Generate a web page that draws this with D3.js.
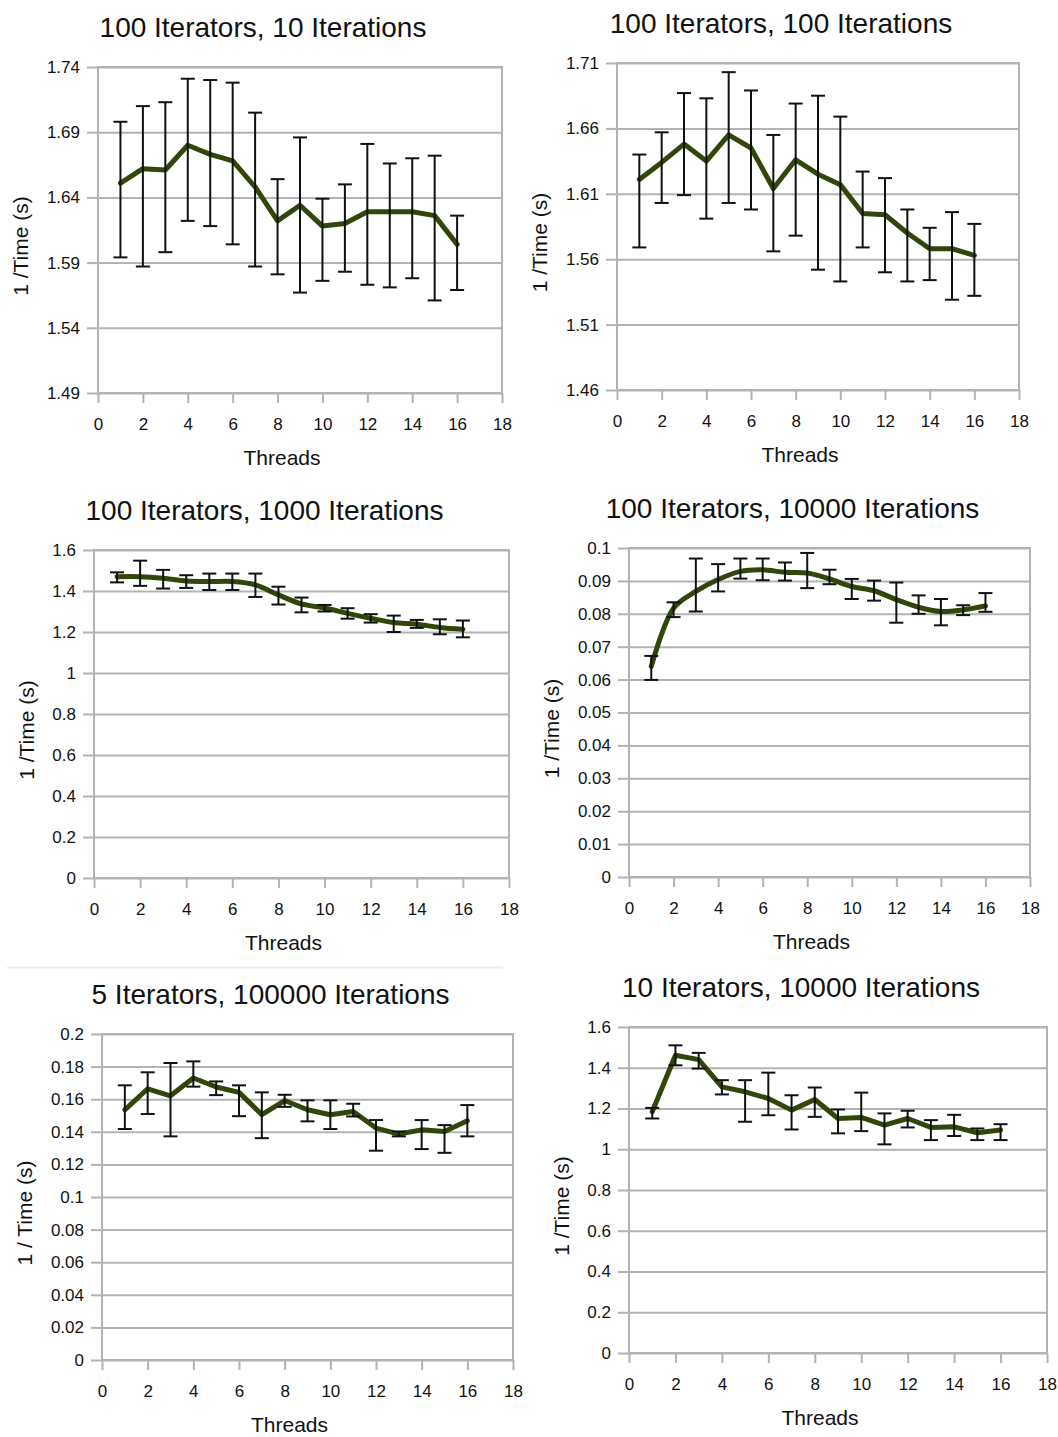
<!DOCTYPE html>
<html>
<head>
<meta charset="utf-8">
<script src="https://cdn.jsdelivr.net/npm/d3@7"></script>
<style>
  body { margin: 0; background: #fff; }
  text { font-family: "Liberation Sans", Arial, sans-serif; fill: #111; }
</style>
</head>
<body>
<svg id="chart" width="1058" height="1437"></svg>
<script>
// shared x data
const threads = [1, 2, 3, 4, 5, 6, 7, 8, 9, 10, 11, 12, 13, 14, 15, 16];
const xTicks = [0, 2, 4, 6, 8, 10, 12, 14, 16, 18];

const titles = [
  "100 Iterators, 10 Iterations",
  "100 Iterators, 100 Iterations",
  "100 Iterators, 1000 Iterations",
  "100 Iterators, 10000 Iterations",
  "5 Iterators, 100000 Iterations",
  "10 Iterators, 10000 Iterations"
];
const yTitles = ["1 /Time (s)", "1 /Time (s)", "1 /Time (s)", "1 /Time (s)", "1 / Time (s)", "1 /Time (s)"];
const xTitle = "Threads";

// y tick labels, bottom to top
const yTicks1 = ["1.49", "1.54", "1.59", "1.64", "1.69", "1.74"];
const yTicks2 = ["1.46", "1.51", "1.56", "1.61", "1.66", "1.71"];
const yTicks3 = ["0", "0.2", "0.4", "0.6", "0.8", "1", "1.2", "1.4", "1.6"];
const yTicks4 = ["0", "0.01", "0.02", "0.03", "0.04", "0.05", "0.06", "0.07", "0.08", "0.09", "0.1"];
const yTicks5 = ["0", "0.02", "0.04", "0.06", "0.08", "0.1", "0.12", "0.14", "0.16", "0.18", "0.2"];
const yTicks6 = ["0", "0.2", "0.4", "0.6", "0.8", "1", "1.2", "1.4", "1.6"];

// 100 iterators, 10 iterations
const mean1 = [1.651, 1.662, 1.661, 1.680, 1.673, 1.668, 1.648, 1.622, 1.634, 1.618, 1.620, 1.629, 1.629, 1.629, 1.626, 1.604];
const high1 = [1.698, 1.710, 1.713, 1.731, 1.730, 1.728, 1.705, 1.654, 1.686, 1.639, 1.650, 1.681, 1.666, 1.670, 1.672, 1.626];
const low1  = [1.594, 1.587, 1.598, 1.622, 1.618, 1.604, 1.587, 1.581, 1.567, 1.576, 1.583, 1.573, 1.571, 1.578, 1.561, 1.569];

// 100 iterators, 100 iterations
const mean2 = [1.621, 1.634, 1.648, 1.635, 1.655, 1.645, 1.614, 1.636, 1.625, 1.617, 1.595, 1.594, 1.580, 1.568, 1.568, 1.563];
const high2 = [1.640, 1.657, 1.687, 1.683, 1.703, 1.689, 1.655, 1.679, 1.685, 1.669, 1.627, 1.622, 1.598, 1.584, 1.596, 1.587];
const low2  = [1.569, 1.603, 1.609, 1.591, 1.603, 1.598, 1.566, 1.578, 1.552, 1.543, 1.569, 1.550, 1.543, 1.544, 1.529, 1.532];

// 100 iterators, 1000 iterations
const mean3 = [1.470, 1.470, 1.462, 1.449, 1.446, 1.446, 1.430, 1.381, 1.337, 1.317, 1.291, 1.267, 1.246, 1.238, 1.222, 1.213];
const high3 = [1.491, 1.548, 1.503, 1.477, 1.485, 1.485, 1.485, 1.421, 1.368, 1.332, 1.316, 1.287, 1.280, 1.259, 1.262, 1.256];
const low3  = [1.442, 1.425, 1.412, 1.415, 1.405, 1.405, 1.371, 1.334, 1.296, 1.300, 1.265, 1.246, 1.200, 1.220, 1.189, 1.174];

// 100 iterators, 10000 iterations
const mean4 = [0.0640, 0.0817, 0.0868, 0.0904, 0.0929, 0.0934, 0.0926, 0.0924, 0.0906, 0.0883, 0.0870, 0.0843, 0.0820, 0.0807, 0.0812, 0.0824];
const high4 = [0.0672, 0.0835, 0.0968, 0.0951, 0.0968, 0.0968, 0.0956, 0.0985, 0.0934, 0.0906, 0.0901, 0.0895, 0.0856, 0.0845, 0.0826, 0.0863];
const low4  = [0.0599, 0.0790, 0.0807, 0.0868, 0.0907, 0.0902, 0.0901, 0.0878, 0.0890, 0.0845, 0.0840, 0.0773, 0.0800, 0.0765, 0.0796, 0.0806];

// 5 iterators, 100000 iterations
const mean5 = [0.1535, 0.1664, 0.1621, 0.1730, 0.1675, 0.1642, 0.1505, 0.1592, 0.1535, 0.1505, 0.1525, 0.1423, 0.1386, 0.1412, 0.1402, 0.1468];
const high5 = [0.1685, 0.1765, 0.1822, 0.1832, 0.1709, 0.1685, 0.1642, 0.1627, 0.1593, 0.1593, 0.1572, 0.1472, 0.1402, 0.1472, 0.1441, 0.1564];
const low5  = [0.1417, 0.1509, 0.1372, 0.1677, 0.1625, 0.1496, 0.1361, 0.1553, 0.1464, 0.1417, 0.1494, 0.1284, 0.1372, 0.1294, 0.1271, 0.1372];

// 10 iterators, 10000 iterations
const mean6 = [1.184, 1.461, 1.440, 1.306, 1.282, 1.249, 1.192, 1.244, 1.151, 1.156, 1.118, 1.151, 1.107, 1.110, 1.081, 1.094];
const high6 = [1.203, 1.510, 1.473, 1.339, 1.339, 1.376, 1.265, 1.303, 1.195, 1.278, 1.176, 1.189, 1.143, 1.169, 1.102, 1.123];
const low6  = [1.151, 1.412, 1.396, 1.269, 1.135, 1.167, 1.097, 1.159, 1.078, 1.089, 1.024, 1.107, 1.045, 1.065, 1.045, 1.045];

// plot boxes in page pixels
const boxes = [
  { left: 98,  right: 502,  top: 67,   bottom: 393,  smooth: false },
  { left: 617, right: 1019, top: 63,   bottom: 390,  smooth: false },
  { left: 94,  right: 509,  top: 550,  bottom: 878,  smooth: true },
  { left: 629, right: 1030, top: 548,  bottom: 877,  smooth: true },
  { left: 102, right: 513,  top: 1034, bottom: 1360, smooth: false },
  { left: 629, right: 1047, top: 1027, bottom: 1353, smooth: false }
];

const panels = [
  { yTicks: yTicks1, mean: mean1, high: high1, low: low1 },
  { yTicks: yTicks2, mean: mean2, high: high2, low: low2 },
  { yTicks: yTicks3, mean: mean3, high: high3, low: low3 },
  { yTicks: yTicks4, mean: mean4, high: high4, low: low4 },
  { yTicks: yTicks5, mean: mean5, high: high5, low: low5 },
  { yTicks: yTicks6, mean: mean6, high: high6, low: low6 }
];

const gridColor = "#b3b3b3";
const lineColor = "#33460a";
const svg = d3.select("#chart");

// faint separator above the bottom-left chart
svg.append("line")
  .attr("x1", 7).attr("x2", 503).attr("y1", 967.5).attr("y2", 967.5)
  .attr("stroke", "#ececec").attr("stroke-width", 2);

panels.forEach((p, i) => {
  const box = boxes[i];
  const yVals = p.yTicks.map(Number);
  const x = d3.scaleLinear().domain([0, 18]).range([box.left, box.right]);
  const y = d3.scaleLinear().domain(d3.extent(yVals)).range([box.bottom, box.top]);
  const g = svg.append("g");

  // horizontal grid
  g.append("g")
    .attr("transform", `translate(${box.left},0)`)
    .call(d3.axisLeft(y).tickValues(yVals).tickSize(-(box.right - box.left)).tickFormat(""))
    .call((a) => a.select(".domain").remove())
    .call((a) => a.selectAll("line").attr("stroke", gridColor).attr("stroke-width", 2));

  // y axis with ticks + labels
  const yAxis = g.append("g")
    .attr("transform", `translate(${box.left},0)`)
    .call(d3.axisLeft(y).tickValues(yVals).tickSize(11).tickPadding(7).tickFormat((d, j) => p.yTicks[j]));
  yAxis.select(".domain").remove();
  yAxis.selectAll("line").attr("stroke", gridColor).attr("stroke-width", 2);
  yAxis.selectAll("text").attr("font-size", 17).attr("fill", "#111");

  // x axis
  const xAxis = g.append("g")
    .attr("transform", `translate(0,${box.bottom})`)
    .call(d3.axisBottom(x).tickValues(xTicks).tickSize(10).tickPadding(15).tickSizeOuter(0));
  xAxis.select(".domain").remove();
  xAxis.selectAll("line").attr("stroke", gridColor).attr("stroke-width", 2);
  xAxis.selectAll("text").attr("font-size", 17).attr("fill", "#111");

  // frame
  g.append("rect")
    .attr("x", box.left).attr("y", box.top)
    .attr("width", box.right - box.left).attr("height", box.bottom - box.top)
    .attr("fill", "none").attr("stroke", gridColor).attr("stroke-width", 2);

  // series line
  const line = d3.line()
    .x((d) => x(d[0]))
    .y((d) => y(d[1]))
    .curve(box.smooth ? d3.curveCatmullRom.alpha(0.5) : d3.curveLinear);
  const pts = threads.map((t, j) => [t, p.mean[j]]);
  g.append("path")
    .datum(pts)
    .attr("d", line)
    .attr("fill", "none")
    .attr("stroke", lineColor)
    .attr("stroke-width", 5)
    .attr("stroke-linejoin", "round")
    .attr("stroke-linecap", "round");

  // error bars
  const cap = 7;
  const bars = g.append("g").attr("stroke", "#111").attr("stroke-width", 2);
  threads.forEach((t, j) => {
    const cx = x(t);
    bars.append("line").attr("x1", cx).attr("x2", cx).attr("y1", y(p.low[j])).attr("y2", y(p.high[j]));
    bars.append("line").attr("x1", cx - cap).attr("x2", cx + cap).attr("y1", y(p.low[j])).attr("y2", y(p.low[j]));
    bars.append("line").attr("x1", cx - cap).attr("x2", cx + cap).attr("y1", y(p.high[j])).attr("y2", y(p.high[j]));
  });

  // titles
  const midX = (box.left + box.right) / 2;
  g.append("text")
    .attr("x", midX - 37).attr("y", box.top - 30)
    .attr("text-anchor", "middle").attr("font-size", 28)
    .text(titles[i]);

  g.append("text")
    .attr("x", midX - 18).attr("y", box.bottom + 72)
    .attr("text-anchor", "middle").attr("font-size", 21)
    .text(xTitle);

  const labelW = d3.max(yAxis.selectAll("text").nodes(), (n) => n.getComputedTextLength());
  const ty = (box.top + box.bottom) / 2 + 16;
  const tx = box.left - 18 - labelW - 26;
  g.append("text")
    .attr("transform", `translate(${tx},${ty}) rotate(-90)`)
    .attr("text-anchor", "middle").attr("dy", "0.35em").attr("font-size", 21)
    .text(yTitles[i]);
});
</script>
</body>
</html>
